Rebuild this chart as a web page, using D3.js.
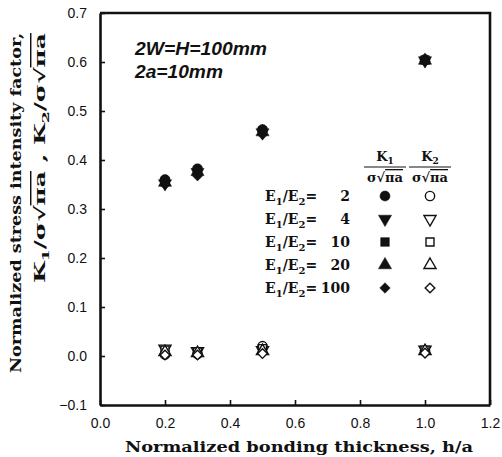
<!DOCTYPE html>
<html>
<head>
<meta charset="utf-8">
<script src="https://cdn.jsdelivr.net/npm/d3@7"></script>
<style>
  body { margin: 0; background: #fff; }
  text { fill: #111; }
</style>
</head>
<body>
<svg id="chart" width="502" height="457"></svg>
<script>
// bonding thickness h/a
const hValues = [0.2, 0.3, 0.5, 1.0];
const ratioLabels = ["2", "4", "10", "20", "100"];

// K1 / (sigma sqrt(pi a))
const k1E2   = [0.360, 0.382, 0.462, 0.605];
const k1E4   = [0.352, 0.375, 0.456, 0.603];
const k1E10  = [0.356, 0.378, 0.459, 0.604];
const k1E20  = [0.354, 0.376, 0.457, 0.603];
const k1E100 = [0.350, 0.368, 0.452, 0.601];

// K2 / (sigma sqrt(pi a))
const k2E2   = [0.003, 0.004, 0.020, 0.010];
const k2E4   = [0.015, 0.010, 0.012, 0.013];
const k2E10  = [0.012, 0.008, 0.015, 0.012];
const k2E20  = [0.008, 0.006, 0.010, 0.010];
const k2E100 = [0.002, 0.002, 0.005, 0.006];

const xTicks = [0, 0.2, 0.4, 0.6, 0.8, 1.0, 1.2];
const yTicks = [-0.1, 0, 0.1, 0.2, 0.3, 0.4, 0.5, 0.6, 0.7];

const svg = d3.select("#chart");
const plotL = 100, plotR = 490, plotT = 13, plotB = 405;

const x = d3.scaleLinear().domain([0, 1.2]).range([plotL, plotR]);
const y = d3.scaleLinear().domain([-0.1, 0.7]).range([plotB, plotT]);

// marker shapes: circle, down-triangle, square, triangle, diamond
const shapes = [
  { type: d3.symbolCircle,   size: 80, rot: 0 },
  { type: d3.symbolTriangle, size: 75, rot: 180 },
  { type: d3.symbolSquare,   size: 75, rot: 0 },
  { type: d3.symbolTriangle, size: 75, rot: 0 },
  { type: d3.symbolSquare,   size: 55, rot: 45 }
];

const k1Series = [k1E2, k1E4, k1E10, k1E20, k1E100];
const k2Series = [k2E2, k2E4, k2E10, k2E20, k2E100];

const pts = [];
k1Series.forEach((vals, i) => vals.forEach((v, j) => pts.push({ h: hValues[j], v, s: i, filled: true })));
k2Series.forEach((vals, i) => vals.forEach((v, j) => pts.push({ h: hValues[j], v, s: i, filled: false })));

// axes, ticks pointing inward
const xAxis = d3.axisBottom(x).tickValues(xTicks).tickSizeInner(-5).tickSizeOuter(0)
  .tickPadding(13).tickFormat(d3.format(".1f"));
const yAxis = d3.axisLeft(y).tickValues(yTicks).tickSizeInner(-5).tickSizeOuter(0)
  .tickPadding(13).tickFormat(d => d < 0 ? "\u22120.1" : d3.format(".1f")(d));

const gx = svg.append("g").attr("transform", `translate(0,${plotB})`).call(xAxis);
const gy = svg.append("g").attr("transform", `translate(${plotL},0)`).call(yAxis);

[gx, gy].forEach(g => {
  g.select(".domain").attr("stroke", "#111").attr("stroke-width", 2.6);
  g.selectAll(".tick line").attr("stroke", "#111").attr("stroke-width", 1.6);
  g.selectAll(".tick text")
    .attr("font-family", "Liberation Sans, Arial, sans-serif")
    .attr("font-size", 14)
    .attr("fill", "#333");
});

// top and right frame
svg.append("path")
  .attr("d", `M${plotL},${plotT}H${plotR}V${plotB}`)
  .attr("fill", "none").attr("stroke", "#111").attr("stroke-width", 2.6);

// markers
const sym = d3.symbol();
svg.append("g").selectAll("path")
  .data(pts)
  .join("path")
  .attr("d", d => sym.type(shapes[d.s].type).size(d.filled ? shapes[d.s].size : shapes[d.s].size * 0.85)())
  .attr("transform", d => `translate(${x(d.h)},${y(d.v)}) rotate(${shapes[d.s].rot})`)
  .attr("fill", d => d.filled ? "#111" : "#fff")
  .attr("stroke", "#111")
  .attr("stroke-width", d => d.filled ? 0.5 : 1.4);

// annotation
const note = svg.append("g")
  .attr("font-family", "Liberation Sans, Arial, sans-serif")
  .attr("font-weight", "bold").attr("font-style", "italic").attr("font-size", 18);
note.append("text").attr("x", 135).attr("y", 55).attr("textLength", 132)
  .attr("lengthAdjust", "spacingAndGlyphs").text("2W=H=100mm");
note.append("text").attr("x", 135).attr("y", 78).attr("textLength", 88)
  .attr("lengthAdjust", "spacingAndGlyphs").text("2a=10mm");

// legend
const serif = "DejaVu Serif, Liberation Serif, serif";
const colFilled = 385, colHollow = 430, rowY0 = 196, rowStep = 23;
const leg = svg.append("g").attr("font-family", serif).attr("font-weight", "bold");

function fraction(cx, sub) {
  const t = leg.append("text").attr("x", cx).attr("y", 161).attr("text-anchor", "middle").attr("font-size", 13);
  t.append("tspan").text("K");
  t.append("tspan").attr("font-size", 9).attr("dy", 3).text(sub);
  leg.append("line").attr("x1", cx - 21).attr("x2", cx + 21).attr("y1", 167).attr("y2", 167)
    .attr("stroke", "#111").attr("stroke-width", 1);
  const b = leg.append("text").attr("x", cx).attr("y", 182).attr("text-anchor", "middle").attr("font-size", 13);
  b.append("tspan").text("\u03c3\u221a");
  b.append("tspan").attr("text-decoration", "overline").text("\u03c0a");
}
fraction(colFilled, "1");
fraction(colHollow, "2");

ratioLabels.forEach((r, i) => {
  const yy = rowY0 + i * rowStep;
  const t = leg.append("text").attr("x", 265).attr("y", yy + 5).attr("font-size", 14);
  t.append("tspan").text("E");
  t.append("tspan").attr("font-size", 10).attr("dy", 4).text("1");
  t.append("tspan").attr("dy", -4).text("/E");
  t.append("tspan").attr("font-size", 10).attr("dy", 4).text("2");
  t.append("tspan").attr("dy", -4).text("=");
  leg.append("text").attr("x", 350).attr("y", yy + 5).attr("text-anchor", "end")
    .attr("font-size", 14).text(r);
  [colFilled, colHollow].forEach((cx, k) => {
    leg.append("path")
      .attr("d", sym.type(shapes[i].type).size(k === 0 ? shapes[i].size : shapes[i].size * 0.85)())
      .attr("transform", `translate(${cx},${yy}) rotate(${shapes[i].rot})`)
      .attr("fill", k === 0 ? "#111" : "#fff")
      .attr("stroke", "#111").attr("stroke-width", k === 0 ? 0.5 : 1.4);
  });
});

// axis titles
svg.append("text")
  .attr("x", (125 + 473) / 2).attr("y", 452)
  .attr("text-anchor", "middle")
  .attr("font-family", serif).attr("font-weight", "bold").attr("font-size", 14)
  .attr("textLength", 348).attr("lengthAdjust", "spacingAndGlyphs")
  .text("Normalized bonding thickness, h/a");

svg.append("text")
  .attr("transform", "translate(21,203) rotate(-90)")
  .attr("text-anchor", "middle")
  .attr("font-family", serif).attr("font-weight", "bold").attr("font-size", 14)
  .attr("textLength", 340).attr("lengthAdjust", "spacingAndGlyphs")
  .text("Normalized stress intensity factor,");

const yt2 = svg.append("text")
  .attr("transform", "translate(45,158) rotate(-90)")
  .attr("text-anchor", "middle")
  .attr("font-family", serif).attr("font-weight", "bold").attr("font-size", 14.5)
  .attr("textLength", 250).attr("lengthAdjust", "spacingAndGlyphs");
yt2.append("tspan").text("K");
yt2.append("tspan").attr("font-size", 10).attr("dy", 4).text("1");
yt2.append("tspan").attr("dy", -4).text("/\u03c3\u221a");
yt2.append("tspan").attr("text-decoration", "overline").text("\u03c0a");
yt2.append("tspan").text(" , K");
yt2.append("tspan").attr("font-size", 10).attr("dy", 4).text("2");
yt2.append("tspan").attr("dy", -4).text("/\u03c3\u221a");
yt2.append("tspan").attr("text-decoration", "overline").text("\u03c0a");
</script>
</body>
</html>
